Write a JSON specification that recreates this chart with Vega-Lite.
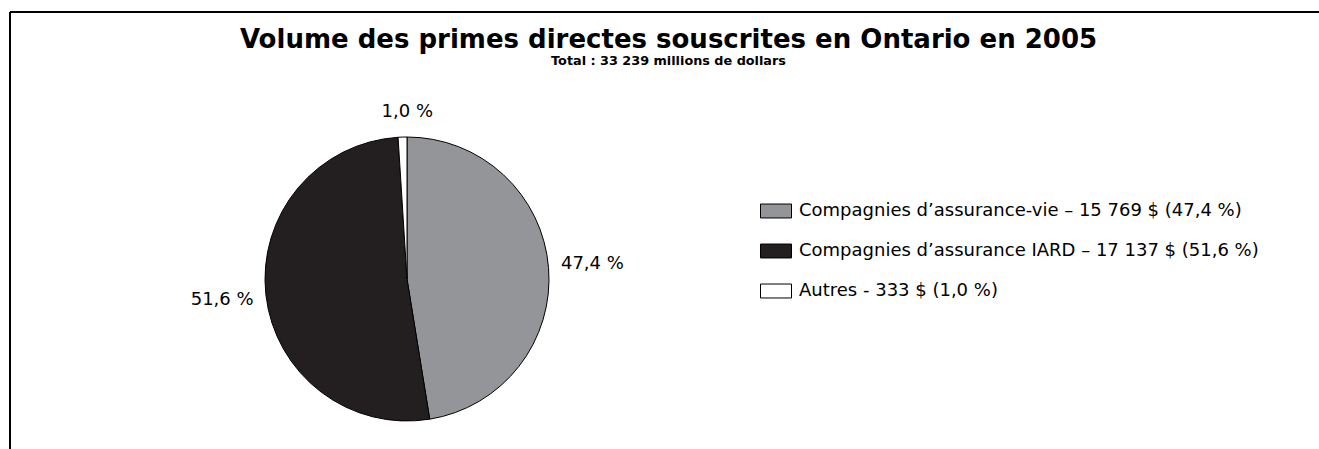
{
  "$schema": "https://vega.github.io/schema/vega-lite/v6.json",
  "autosize": {"type": "none"},
  "width": 1309,
  "height": 437,
  "padding": {"left": 10, "top": 12, "right": 0, "bottom": 0},
  "background": "white",
  "config": {
    "view": {"stroke": null},
    "font": "DejaVu Sans"
  },
  "title": {
    "text": "Volume des primes directes souscrites en Ontario en 2005",
    "subtitle": "Total : 33 239 millions de dollars",
    "anchor": "middle",
    "font": "DejaVu Sans",
    "fontSize": 26,
    "fontWeight": "bold",
    "color": "black",
    "subtitleFont": "DejaVu Sans",
    "subtitleFontSize": 12.8,
    "subtitleFontWeight": "bold",
    "subtitleColor": "black",
    "subtitlePadding": 2,
    "offset": -59,
    "dx": 4
  },
  "data": {
    "values": [
      {"categorie": "Compagnies d’assurance-vie – 15 769 $ (47,4 %)", "valeur": 15769, "etiquette": "47,4 %", "ordre": 1},
      {"categorie": "Compagnies d’assurance IARD – 17 137 $ (51,6 %)", "valeur": 17137, "etiquette": "51,6 %", "ordre": 2},
      {"categorie": "Autres - 333 $ (1,0 %)", "valeur": 333, "etiquette": "1,0 %", "ordre": 3}
    ]
  },
  "layer": [
    {
      "mark": {"type": "point", "opacity": 0},
      "encoding": {
        "x": {"field": "valeur", "type": "quantitative", "axis": {"orient": "top", "domainColor": "black", "domainWidth": 2, "ticks": false, "labels": false, "grid": false, "title": null, "translate": 0}},
        "y": {"field": "ordre", "type": "quantitative", "axis": {"orient": "left", "domainColor": "black", "domainWidth": 2, "ticks": false, "labels": false, "grid": false, "title": null, "translate": 0}}
      }
    },
    {
      "mark": {"type": "arc", "x": 397, "y": 267, "outerRadius": 142, "stroke": "black", "strokeWidth": 1},
      "encoding": {
        "theta": {"field": "valeur", "type": "quantitative", "stack": true},
        "order": {"field": "ordre", "type": "quantitative"},
        "color": {
          "field": "categorie",
          "type": "nominal",
          "scale": {
            "domain": [
              "Compagnies d’assurance-vie – 15 769 $ (47,4 %)",
              "Compagnies d’assurance IARD – 17 137 $ (51,6 %)",
              "Autres - 333 $ (1,0 %)"
            ],
            "range": ["#939598", "#231f20", "#ffffff"]
          },
          "legend": {
            "title": null,
            "orient": "none",
            "legendX": 750,
            "legendY": 183,
            "padding": 0,
            "symbolType": "M-1,-0.45H1V0.45H-1Z",
            "symbolSize": 961,
            "symbolStrokeColor": "black",
            "symbolStrokeWidth": 1,
            "symbolOpacity": 1,
            "labelFont": "DejaVu Sans",
            "labelFontSize": 18,
            "labelColor": "black",
            "labelOffset": 7,
            "labelLimit": 600,
            "rowPadding": 15
          }
        }
      }
    },
    {
      "transform": [{"filter": "datum.valeur > 1000"}],
      "mark": {"type": "text", "x": 397, "y": 267, "radius": 186, "fontSize": 18, "font": "DejaVu Sans", "color": "black", "align": "center", "baseline": "middle"},
      "encoding": {
        "theta": {"field": "valeur", "type": "quantitative", "stack": true},
        "order": {"field": "ordre", "type": "quantitative"},
        "text": {"field": "etiquette"}
      }
    },
    {
      "transform": [{"filter": "datum.valeur < 1000"}],
      "mark": {"type": "text", "x": 397, "y": 267, "radius": 167, "dx": -5, "fontSize": 18, "font": "DejaVu Sans", "color": "black", "align": "center", "baseline": "middle"},
      "encoding": {
        "theta": {"field": "valeur", "type": "quantitative", "stack": true},
        "order": {"field": "ordre", "type": "quantitative"},
        "text": {"field": "etiquette"}
      }
    }
  ]
}
